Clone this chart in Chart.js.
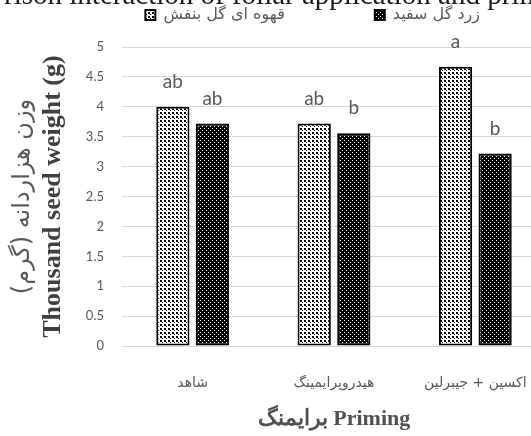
<!DOCTYPE html>
<html>
<head>
<meta charset="utf-8">
<script src="https://cdn.jsdelivr.net/npm/chart.js@4.4.0/dist/chart.umd.min.js"></script>
<style>
  html, body { margin: 0; padding: 0; background: #fff; overflow: hidden; width: 531px; height: 436px; }
  #wrap { position: absolute; left: 0; top: -8px; width: 560px; height: 444px; }
</style>
</head>
<body>
<div id="wrap"><canvas id="c" width="560" height="444"></canvas></div>
<script>
  // values
  const categories = ["شاهد", "هیدروپرایمینگ", "اکسین + جیبرلین"];
  const seriesNames = ["قهوه ای گل بنفش", "زرد گل سفید"];
  const brownPurple = [4.0, 3.72, 4.67];
  const yellowWhite = [3.72, 3.56, 3.22];
  const brownLetters = ["ab", "ab", "a"];
  const yellowLetters = ["ab", "b", "b"];
  const titleText = "rison interaction of foliar application and prim";
  const yTitleEn = "Thousand seed weight (g)";
  const yTitleFa = "وزن هزاردانه (گرم)\u200F";
  const xTitle = "برایمنگ Priming";

  const ctx = document.getElementById("c").getContext("2d");

  function dotPattern(bg, fg, size, dots) {
    const c = document.createElement("canvas");
    c.width = c.height = size;
    const p = c.getContext("2d");
    p.fillStyle = bg;
    p.fillRect(0, 0, size, size);
    p.fillStyle = fg;
    dots.forEach(([x, y, s]) => p.fillRect(x, y, s, s));
    return ctx.createPattern(c, "repeat");
  }

  const lightFill = dotPattern("#fff", "#000", 4, [[0, 0, 2], [2, 2, 1]]);
  const darkFill = dotPattern("#000", "#fff", 4, [[0, 0, 1], [2, 2, 1]]);

  // spacing after each legend entry (em / en spaces)
  const legendGaps = ["\u2003".repeat(5) + "\u2002", "\u2003".repeat(4)];

  const letters = {
    id: "letters",
    afterDatasetsDraw(chart) {
      const c = chart.ctx;
      c.save();
      c.font = "19px Lato";
      c.fillStyle = "#595959";
      c.textAlign = "center";
      c.textBaseline = "middle";
      chart.data.datasets.forEach((ds, i) => {
        chart.getDatasetMeta(i).data.forEach((bar, j) => {
          c.fillText(ds.letters[j], bar.x, bar.y - 25);
        });
      });
      c.restore();
    }
  };

  new Chart(ctx, {
    type: "bar",
    data: {
      labels: categories,
      datasets: [
        {
          label: seriesNames[0],
          data: brownPurple,
          letters: brownLetters,
          backgroundColor: lightFill,
          borderColor: "#000",
          borderWidth: 2,
          borderSkipped: false,
          barPercentage: 0.84,
          categoryPercentage: 0.56,
        },
        {
          label: seriesNames[1],
          data: yellowWhite,
          letters: yellowLetters,
          backgroundColor: darkFill,
          borderColor: "#000",
          borderWidth: 2,
          borderSkipped: false,
          barPercentage: 0.84,
          categoryPercentage: 0.56,
        },
      ],
    },
    options: {
      responsive: false,
      animation: false,
      layout: { padding: { right: 14 } },
      plugins: {
        title: {
          display: true,
          text: titleText,
          color: "#1a1a1a",
          font: { family: "Liberation Serif", size: 29, weight: "normal", lineHeight: 0.45 },
          padding: { top: -2, bottom: 2 },
        },
        legend: {
          position: "top",
          align: "end",
          labels: {
            boxWidth: 10,
            boxHeight: 10,
            padding: 2,
            color: "#595959",
            font: { family: "DejaVu Sans", size: 16 },
            generateLabels: chart =>
              Chart.defaults.plugins.legend.labels.generateLabels(chart)
                .map((it, i) => ({ ...it, text: it.text + legendGaps[i] })),
          },
        },
        tooltip: { enabled: false },
      },
      scales: {
        x: {
          grid: { display: false, drawTicks: false },
          border: { display: false },
          ticks: { color: "#595959", font: { family: "DejaVu Sans", size: 14 }, padding: 29, autoSkip: false, maxRotation: 0 },
          title: {
            display: true,
            text: xTitle,
            color: "#505050",
            font: { family: "Liberation Serif", size: 22, weight: "bold" },
            padding: { top: 0, bottom: 3 },
          },
          afterFit: s => { s.height = 90; },
        },
        x2: {
          axis: "x",
          type: "linear",
          position: "top",
          ticks: { display: false },
          grid: { display: false },
          border: { display: false },
          afterFit: s => { s.height = 14; },
        },
        y: {
          min: 0,
          max: 5,
          ticks: { stepSize: 0.5, color: "#595959", font: { family: "Lato", size: 13 }, padding: 18, callback: v => v },
          grid: { color: "#d9d9d9", drawTicks: false },
          border: { display: false },
          title: {
            display: true,
            text: yTitleEn,
            color: "#404040",
            font: { family: "Liberation Serif", size: 26, weight: "bold" },
            padding: 0,
          },
          afterFit: s => { s.width = 84; },
        },
        yt: {
          axis: "y",
          type: "linear",
          position: "left",
          weight: 1,
          ticks: { display: false },
          grid: { display: false },
          border: { display: false },
          title: {
            display: true,
            text: yTitleFa,
            color: "#595959",
            font: { family: "DejaVu Sans", size: 24 },
            padding: { top: 8, bottom: 0 },
          },
          afterFit: s => { s.width = 38; },
        },
      },
    },
    plugins: [letters],
  });
</script>
</body>
</html>
